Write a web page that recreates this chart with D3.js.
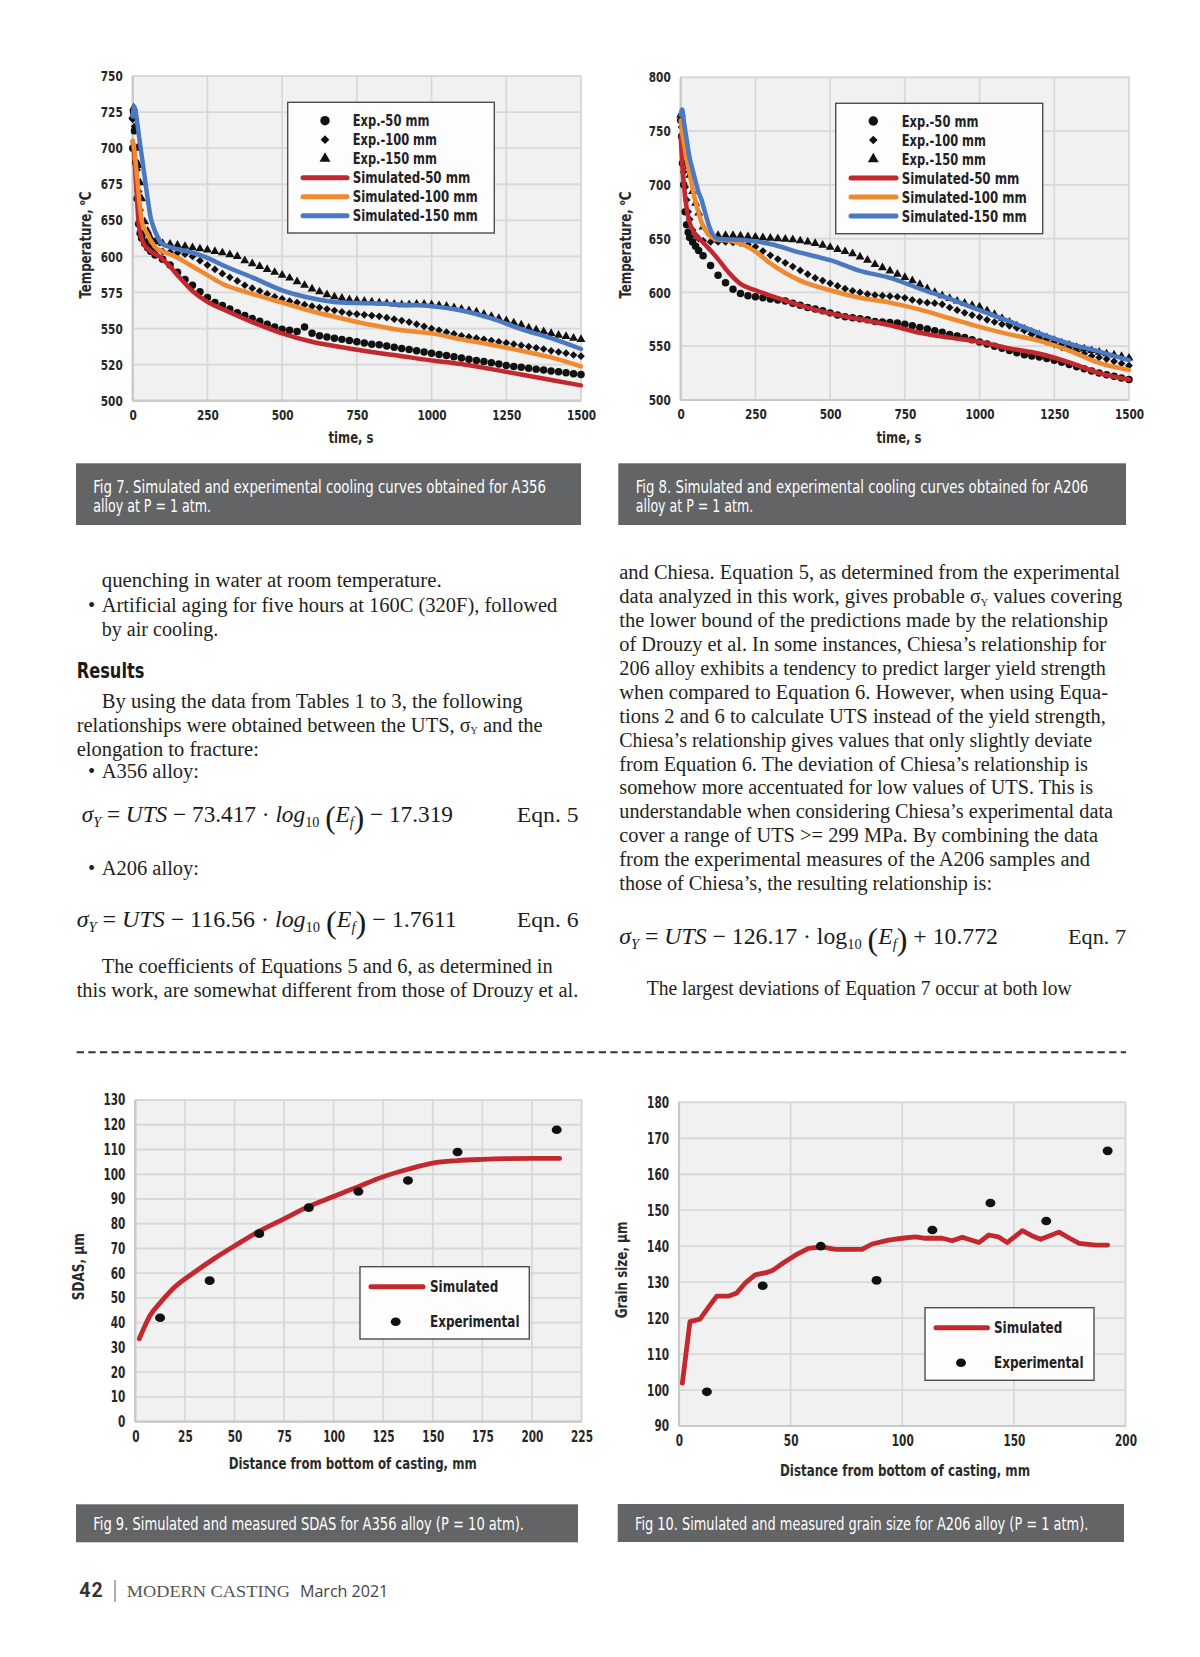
<!DOCTYPE html>
<html>
<head>
<meta charset="utf-8">
<script src="https://d3js.org/d3.v7.min.js"></script>
<style>
body{margin:0;background:#fff;}
svg{display:block;}
</style>
</head>
<body>
<svg id="page" width="1200" height="1657"></svg>
<script>
// ---- Fig 7 / Fig 8 : cooling curves ----
var coolTicksX = [0, 250, 500, 750, 1000, 1250, 1500];
var fig7TicksY = [500, 520, 550, 575, 600, 650, 675, 700, 725, 750];   // as printed (uneven)
var fig8TicksY = [500, 550, 600, 650, 700, 750, 800];
var coolLegendLabels = ["Exp.-50 mm", "Exp.-100 mm", "Exp.-150 mm", "Simulated-50 mm", "Simulated-100 mm", "Simulated-150 mm"];
var coolLegendWidths = [76.7, 84.3, 84.3, 117.7, 125, 125];

var simTime = [0,5,10,20,30,40,50,60,70,80,90,100,125,150,200,250,300,400,500,600,700,800,900,1000,1100,1200,1300,1400,1500];
var expTime = [0,3,6,10,15,20,25,30,40,50,60,75,
  100,125,150,175,200,225,250,275,300,325,350,375,400,425,450,475,500,525,550,575,600,625,650,675,700,725,
  750,775,800,825,850,875,900,925,950,975,1000,1025,1050,1075,1100,1125,1150,1175,1200,1225,1250,1275,
  1300,1325,1350,1375,1400,1425,1450,1475,1500];

// Fig 7 (A356) values in printed-label units
var f7Sim50  = [705,695,680,645,625,615,611,607,604.5,602,600,598,593,587,576,568.5,563.5,554.5,546,539,534.5,530.5,527,523.5,520.5,517.5,514.5,511.5,508.5];
var f7Sim100 = [705,700,690,668,650,638,630,622,616,611,609,607,603,599,593,587,581,574,568,562,557,552.5,548.5,546,541,536.5,531.5,526,519];
var f7Sim150 = [722,729,725,710,695,680,665,652,640,630,622,617,613,610,605,599,594,585.5,576.5,571,568,567.5,566.5,565.5,562.5,557,549.5,542,533];
var f7Exp50  = [700,725,712,690,665,645,632,625,618,612,607,602,
  598,594,589,584,580,575.5,571.5,568,566,563.5,561,559,557,555,553,551,549.5,548.5,547.5,551,546,544,543,542,541,540,
  539,538,537,536.5,535.5,534.5,533.5,532.5,531.5,530.5,529.5,528.5,527.5,526.5,525.5,524.5,523.5,522.5,521.5,520.5,519.5,519,
  518.5,518,517.5,517,516.5,516,515.5,515,514.5];
var f7Exp100 = [720,726,715,700,685,670,657,648,632,622,615,610,
  607,606,605,603,600,597,594,591,588,585.5,583,580,578,576,574,572,570.5,569,568,566.5,565.5,564.5,563.5,562.5,561.5,560.5,
  560,559.5,559,558.5,557.5,556.5,555.5,554.5,553,551.5,550,548.5,547,545.5,544,543,542,541,540,539,538,537,
  536,535,534,533,531.5,530.5,529.5,528,527];
var f7Exp150 = [722,728,722,712,700,688,676,665,648,635,626,620,
  618,617,615.5,614,612,610.5,609,607,605,602.5,600,597,595,593,591,589,587,585,582.5,580,577.5,575.5,573.5,572,571,570,
  569.5,569,568.5,568,567.5,567,566.5,566.5,567,567,566.5,566,565.5,564.5,563.5,562.5,561.5,560,558.5,557,555.5,554,
  552.5,550.5,549,547.5,546,544.5,543.5,542,541];

// Fig 8 (A206)
var f8Sim50  = [745,720,702,678,665,658,653,650,648,645,642,639,631,622,608,602,597,588,580.5,575,569.5,562.5,558,554,548,543,535,525,519];
var f8Sim100 = [760,748,740,723,710,696,684,674,665,659,655,652,649,648.5,645.5,638,627,611,602,595,590.5,584,576,568,561,555,546,534.5,528];
var f8Sim150 = [765,770,760,742,725,714,703,693,686,676,666,658,650,649.5,649,647.5,645,637,630,620,613.5,603.5,594,583.5,573,562,552.5,545,537];
var f8Exp50  = [760,745,720,700,675,663,656,651,647,643,639,634,
  625,616,609,603,599,597,596,595,594,593,592,590,588,586,584.5,583,581,579,577.5,576.5,575.5,574.5,573,572.5,572,571.5,
  570.5,569,567.5,566,564.5,563,561,559.5,558,556,554,552,550,548,546,544,542,541,540,538.5,537,535,
  533,531,529,527,525,523.5,522,520.5,519];
var f8Exp100 = [760,754,735,712,698,686,675,668,658,653,650,648,
  647,647,647,646.5,646,644.5,642.5,638.5,634.5,631,627.5,624,620.5,617,613.5,611,608.5,606,603.5,601.5,600,598.5,597.5,597,596.5,596,
  595,593,591.5,590.5,590,589,586,583.5,581,579,577,574.5,572.5,570.5,569,567,564.5,561,557.5,554,551.5,549,
  547,545,543,541,539.5,538,536,534,532];
var f8Exp150 = [765,766,755,748,737,727,717,709,694,683,674,661,
  655,653,653,653,652.5,652,651.5,651,650.5,650,649.5,649,648,647,645.5,644,642,640,638,636,633,630,626,623,620,617,
  614,611,607.5,603.5,600,597,594.5,592,590,588,586.5,583,579.5,576,572.5,569,566,563,560.5,558,555.5,553,
  551,549,547.5,546,544.5,543,542,540.5,539];

// ---- Fig 9 : SDAS ----
var sdasTicksX = [0,25,50,75,100,125,150,175,200,225];
var sdasTicksY = [0,10,20,30,40,50,60,70,80,90,100,110,120,130];
var sdasSimX = [2,5,7.5,12.5,20,30,40,50,62.5,75,87.5,100,112.5,125,137.5,150,162.5,175,187.5,200,214];
var sdasSimY = [33.5,39,43,48,54.5,60.5,66,71,77,82,87,91,95,99,102,104.5,105.5,106,106.3,106.4,106.4];
var sdasExpX = [12.5,37.5,62.5,87.5,112.5,137.5,162.5,212.5];
var sdasExpY = [42,57,76,86.5,93,97.5,109,118];

// ---- Fig 10 : grain size ----
var grainTicksX = [0,50,100,150,200];
var grainTicksY = [90,100,110,120,130,140,150,160,170,180];
var grainSimX = [1.5,4.9,9.4,13.9,16.9,22.1,25.9,29.6,34.1,39.4,42.3,46.8,52.1,58,64,70,82,86.5,93.9,100,105.9,110.4,117.9,122.4,126.9,134.3,138.8,143,147,153.8,158,162,170.2,175,179.2,186.7,192];
var grainSimY = [101.9,119,119.7,123.6,126.1,126.1,127,129.7,132,132.7,133.4,135.4,137.5,139.4,139.8,139.1,139.1,140.6,141.7,142.2,142.6,142.2,142.2,141.5,142.5,141,143.1,142.6,141,144.3,142.9,141.9,143.9,142.2,140.8,140.3,140.3];
var grainExpX = [12.5,37.5,63.5,88.5,113.5,139.5,164.5,192];
var grainExpY = [99.5,129,140,130.5,144.5,152,147,166.5];

var NARROW = "'Liberation Sans Narrow','Arial Narrow','DejaVu Sans Condensed',Roboto,sans-serif";
var SERIF = "'Liberation Serif','DejaVu Serif',serif";
var INK = "#231f20";
var RED = "#c3282e", ORANGE = "#ef8a30", BLUE = "#4a79c1";

var svg = d3.select("#page");

function squeeze(sel, w) {
  return sel.attr("textLength", w).attr("lengthAdjust", "spacingAndGlyphs");
}

function frame(g, x, y, xTicks, yTicks, fs) {
  var xr = x.range(), yr = y.range();
  var x0 = xr[0], x1 = xr[xr.length - 1], yb = yr[0], yt = yr[yr.length - 1];
  g.append("rect").attr("x", x0).attr("y", yt).attr("width", x1 - x0).attr("height", yb - yt)
    .attr("fill", "#f1f1f1").attr("stroke", "#dcdcdc").attr("stroke-width", 1.5);
  g.append("g").selectAll("line").data(xTicks).join("line")
    .attr("x1", d => x(d)).attr("x2", d => x(d)).attr("y1", yt).attr("y2", yb)
    .attr("stroke", "#d8d8d8").attr("stroke-width", 1.8);
  g.append("g").selectAll("line").data(yTicks).join("line")
    .attr("x1", x0).attr("x2", x1).attr("y1", d => y(d)).attr("y2", d => y(d))
    .attr("stroke", "#d8d8d8").attr("stroke-width", 1.8);
  g.append("line").attr("x1", x0).attr("x2", x0).attr("y1", yt).attr("y2", yb).attr("stroke", "#c9c9c9").attr("stroke-width", 2.2);
  g.append("line").attr("x1", x0).attr("x2", x1).attr("y1", yb).attr("y2", yb).attr("stroke", "#c9c9c9").attr("stroke-width", 2.2);

  var ax = g.append("g").attr("transform", "translate(0," + yb + ")")
    .call(d3.axisBottom(x).tickValues(xTicks).tickSize(0).tickPadding(9).tickFormat(d3.format("d")));
  var ay = g.append("g").attr("transform", "translate(" + x0 + ",0)")
    .call(d3.axisLeft(y).tickValues(yTicks).tickSize(0).tickPadding(10).tickFormat(d3.format("d")));
  [ax, ay].forEach(function(a) {
    a.select(".domain").remove();
    a.selectAll("text").attr("font-family", NARROW).attr("font-weight", "bold")
      .attr("font-size", fs).attr("fill", "#262626")
      .attr("textLength", d => String(d).length * 7.3).attr("lengthAdjust", "spacingAndGlyphs");
  });
}

function axisTitle(g, x, y, txt, w, rotate) {
  var t = g.append("text").attr("font-family", NARROW).attr("font-weight", "bold").attr("font-size", 16)
    .attr("fill", "#2a2a2a").attr("text-anchor", "middle");
  if (rotate) t.attr("transform", "translate(" + x + "," + y + ") rotate(-90)");
  else t.attr("x", x).attr("y", y);
  return squeeze(t.text(txt), w);
}

function tempTitle(g, x, y) {
  var t = g.append("text").attr("font-family", NARROW).attr("font-weight", "bold").attr("font-size", 15.5)
    .attr("fill", "#2a2a2a").attr("text-anchor", "middle")
    .attr("transform", "translate(" + x + "," + y + ") rotate(-90)");
  t.append("tspan").text("Temperature, ");
  t.append("tspan").attr("font-size", 9.5).attr("dy", -6).text("o");
  t.append("tspan").attr("dy", 6).text("C");
  squeeze(t, 107);
}

var symCircle = d3.symbol().type(d3.symbolCircle).size(44);
var symDiamond = d3.symbol().type(d3.symbolDiamond2).size(38);
var symTriangle = d3.symbol().type(d3.symbolTriangle).size(34);

function coolingChart(g, x, y, sims, exps) {
  var syms = [symCircle, symDiamond, symTriangle];
  exps.forEach(function(vals, k) {
    g.append("g").selectAll("path").data(expTime).join("path")
      .attr("transform", (d, i) => "translate(" + x(d) + "," + y(vals[i]) + ")")
      .attr("d", syms[k]()).attr("fill", "#111");
  });
  var colors = [RED, ORANGE, BLUE];
  sims.forEach(function(vals, k) {
    var line = d3.line().x((d, i) => x(simTime[i])).y(d => y(d)).curve(d3.curveMonotoneX);
    g.append("path").datum(vals).attr("d", line).attr("fill", "none")
      .attr("stroke", colors[k]).attr("stroke-width", 4.5).attr("stroke-linejoin", "round").attr("stroke-linecap", "round");
  });
}

function coolLegend(g, bx, by, bw, bh, markX, lx1, lx2, textX, firstY) {
  g.append("rect").attr("x", bx).attr("y", by).attr("width", bw).attr("height", bh)
    .attr("fill", "#fdfdfd").attr("stroke", "#4d4d4d").attr("stroke-width", 1.4);
  var syms = [d3.symbol().type(d3.symbolCircle).size(70), d3.symbol().type(d3.symbolDiamond2).size(48), d3.symbol().type(d3.symbolTriangle).size(52)];
  var colors = [RED, ORANGE, BLUE];
  coolLegendLabels.forEach(function(lab, i) {
    var cy = firstY + i * 19;
    if (i < 3) {
      g.append("path").attr("transform", "translate(" + markX + "," + cy + ")").attr("d", syms[i]()).attr("fill", "#111");
    } else {
      g.append("line").attr("x1", lx1).attr("x2", lx2).attr("y1", cy).attr("y2", cy)
        .attr("stroke", colors[i - 3]).attr("stroke-width", 5).attr("stroke-linecap", "round");
    }
    squeeze(g.append("text").attr("x", textX).attr("y", cy + 5.5).attr("font-family", NARROW).attr("font-weight", "bold")
      .attr("font-size", 15.5).attr("fill", "#222").text(lab), coolLegendWidths[i]);
  });
}

function simpleLegend(g, bx, by, bw, bh, lx1, lx2, ly, dotX, dotY, textX) {
  g.append("rect").attr("x", bx).attr("y", by).attr("width", bw).attr("height", bh)
    .attr("fill", "#fdfdfd").attr("stroke", "#4d4d4d").attr("stroke-width", 1.4);
  g.append("line").attr("x1", lx1).attr("x2", lx2).attr("y1", ly).attr("y2", ly)
    .attr("stroke", RED).attr("stroke-width", 5).attr("stroke-linecap", "round");
  g.append("ellipse").attr("cx", dotX).attr("cy", dotY).attr("rx", 5).attr("ry", 4.3).attr("fill", "#111");
  [["Simulated", ly, 68.3], ["Experimental", dotY, 89.5]].forEach(function(p) {
    squeeze(g.append("text").attr("x", textX).attr("y", p[1] + 5.5).attr("font-family", NARROW).attr("font-weight", "bold")
      .attr("font-size", 16).attr("fill", "#222").text(p[0]), p[2]);
  });
}

function caption(g, x, y, w, h, tx, lines) {
  g.append("rect").attr("x", x).attr("y", y).attr("width", w).attr("height", h).attr("fill", "#636466");
  lines.forEach(function(l) {
    squeeze(g.append("text").attr("x", tx).attr("y", l[1]).attr("font-family", NARROW).attr("font-size", 17.5)
      .attr("fill", "#ffffff").text(l[0]), l[2]);
  });
}

// ---------- Fig 7 ----------
var g7 = svg.append("g");
var x7 = d3.scaleLinear().domain([0, 1500]).range([132.7, 581]);
var y7 = d3.scaleLinear().domain(fig7TicksY).range(fig7TicksY.map((d, i) => 400.7 - i * (400.7 - 76) / (fig7TicksY.length - 1)));
frame(g7, x7, y7, coolTicksX, fig7TicksY, 14.5);
coolingChart(g7, x7, y7, [f7Sim50, f7Sim100, f7Sim150], [f7Exp50, f7Exp100, f7Exp150]);
coolLegend(g7, 287.7, 102.3, 206.6, 130.7, 325, 303, 347, 352.7, 120.7);
axisTitle(g7, 351, 442.5, "time, s", 45);
tempTitle(g7, 90.5, 245);
caption(g7, 76, 463.3, 505, 61.7, 93.3, [["Fig 7. Simulated and experimental cooling curves obtained for A356", 492.7, 452.7], ["alloy at P = 1 atm.", 511.5, 117.7]]);

// ---------- Fig 8 ----------
var g8 = svg.append("g");
var x8 = d3.scaleLinear().domain([0, 1500]).range([680.7, 1129]);
var y8 = d3.scaleLinear().domain([500, 800]).range([400, 77.3]);
frame(g8, x8, y8, coolTicksX, fig8TicksY, 14.5);
coolingChart(g8, x8, y8, [f8Sim50, f8Sim100, f8Sim150], [f8Exp50, f8Exp100, f8Exp150]);
coolLegend(g8, 835.7, 103.3, 207, 130.4, 873.3, 851, 896, 901.7, 121);
axisTitle(g8, 899, 442.5, "time, s", 45);
tempTitle(g8, 630.5, 245);
caption(g8, 618.3, 463.3, 507.7, 61.7, 635.7, [["Fig 8. Simulated and experimental cooling curves obtained for A206", 492.7, 452.6], ["alloy at P = 1 atm.", 511.5, 117.6]]);

// ---------- Fig 9 ----------
var g9 = svg.append("g");
var x9 = d3.scaleLinear().domain([0, 225]).range([135.3, 581.5]);
var y9 = d3.scaleLinear().domain([0, 130]).range([1421.7, 1100]);
frame(g9, x9, y9, sdasTicksX, sdasTicksY, 15.5);
g9.append("path").datum(sdasSimY)
  .attr("d", d3.line().x((d, i) => x9(sdasSimX[i])).y(d => y9(d)).curve(d3.curveMonotoneX))
  .attr("fill", "none").attr("stroke", RED).attr("stroke-width", 4.8).attr("stroke-linecap", "round");
g9.append("g").selectAll("ellipse").data(sdasExpY).join("ellipse")
  .attr("cx", (d, i) => x9(sdasExpX[i])).attr("cy", d => y9(d)).attr("rx", 5).attr("ry", 4.3).attr("fill", "#111");
simpleLegend(g9, 360, 1266.7, 169.3, 72.3, 371, 423, 1286.7, 395.7, 1321.7, 430);
axisTitle(g9, 352.7, 1469.3, "Distance from bottom of casting, mm", 248);
axisTitle(g9, 84, 1266.7, "SDAS, µm", 67, true);
caption(g9, 76, 1504.3, 502, 38, 93.3, [["Fig 9. Simulated and measured SDAS for A356 alloy (P = 10 atm).", 1530, 430.7]]);

// ---------- Fig 10 ----------
var g10 = svg.append("g");
var x10 = d3.scaleLinear().domain([0, 200]).range([679, 1125.5]);
var y10 = d3.scaleLinear().domain([90, 180]).range([1426, 1102.3]);
frame(g10, x10, y10, grainTicksX, grainTicksY, 15.5);
g10.append("path").datum(grainSimY)
  .attr("d", d3.line().x((d, i) => x10(grainSimX[i])).y(d => y10(d)))
  .attr("fill", "none").attr("stroke", RED).attr("stroke-width", 4.8).attr("stroke-linejoin", "round").attr("stroke-linecap", "round");
g10.append("g").selectAll("ellipse").data(grainExpY).join("ellipse")
  .attr("cx", (d, i) => x10(grainExpX[i])).attr("cy", d => y10(d)).attr("rx", 5).attr("ry", 4.3).attr("fill", "#111");
simpleLegend(g10, 925, 1307.7, 169, 72.6, 936, 987.5, 1327.7, 961, 1362.7, 994);
axisTitle(g10, 905, 1476, "Distance from bottom of casting, mm", 250);
axisTitle(g10, 626.5, 1270, "Grain size, µm", 96.7, true);
caption(g10, 617.7, 1504, 506.3, 38, 635, [["Fig 10. Simulated and measured grain size for A206 alloy (P = 1 atm).", 1530, 453.3]]);

// ---------- body text ----------
var gt = svg.append("g");
function bodyLine(x, y, str, w) {
  var t = gt.append("text").attr("x", x).attr("y", y).attr("font-family", SERIF).attr("font-size", 20.5).attr("fill", INK);
  var parts = str.split("σY");
  parts.forEach(function(p, i) {
    if (i > 0) {
      t.append("tspan").attr("font-size", 20).text("σ");
      t.append("tspan").attr("font-size", 10).attr("dy", 2.5).text("Y");
      t.append("tspan").attr("dy", -2.5).text(p);
    } else t.append("tspan").text(p);
  });
  // lines carrying the σY subscript keep their natural width
  if (w && parts.length === 1) squeeze(t, w);
  return t;
}
function bullet(x, y) {
  gt.append("text").attr("x", x).attr("y", y).attr("text-anchor", "middle").attr("font-family", SERIF)
    .attr("font-size", 20.5).attr("fill", INK).text("•");
}

var leftLines = [
  [101.7, 587, "quenching in water at room temperature.", 340],
  [101.7, 611.7, "Artificial aging for five hours at 160C (320F), followed", 455.6],
  [101.7, 636, "by air cooling.", 116.6],
  [101.7, 708.3, "By using the data from Tables 1 to 3, the following", 421],
  [76.7, 731.7, "relationships were obtained between the UTS, σY and the", 476.6],
  [76.7, 755.7, "elongation to fracture:", null],
  [101.7, 778.3, "A356 alloy:", null],
  [101.7, 875, "A206 alloy:", null],
  [101.7, 973.3, "The coefficients of Equations 5 and 6, as determined in", 451],
  [76.7, 997.3, "this work, are somewhat different from those of Drouzy et al.", 501.6]
];
leftLines.forEach(l => bodyLine(l[0], l[1], l[2], l[3]));
bullet(91.7, 611.7);
bullet(91.7, 778.3);
bullet(91.7, 875);

var rightLines = [
  ["and Chiesa. Equation 5, as determined from the experimental", 1120],
  ["data analyzed in this work, gives probable σY values covering", 1112],
  ["the lower bound of the predictions made by the relationship", 1108],
  ["of Drouzy et al. In some instances, Chiesa’s relationship for", 1106],
  ["206 alloy exhibits a tendency to predict larger yield strength", 1106],
  ["when compared to Equation 6. However, when using Equa-", 1108],
  ["tions 2 and 6 to calculate UTS instead of the yield strength,", 1106],
  ["Chiesa’s relationship gives values that only slightly deviate", 1092],
  ["from Equation 6. The deviation of Chiesa’s relationship is", 1088],
  ["somehow more accentuated for low values of UTS. This is", 1093],
  ["understandable when considering Chiesa’s experimental data", 1113],
  ["cover a range of UTS >= 299 MPa. By combining the data", 1098],
  ["from the experimental measures of the A206 samples and", 1090],
  ["those of Chiesa’s, the resulting relationship is:", 992]
];
rightLines.forEach((l, i) => bodyLine(619.3, 579.3 + i * 23.9, l[0], l[1] - 619.3));
bodyLine(646.7, 995, "The largest deviations of Equation 7 occur at both low", 425);

// Results heading
squeeze(gt.append("text").attr("x", 76.7).attr("y", 678.3).attr("font-family", NARROW).attr("font-weight", "bold")
  .attr("font-size", 21.5).attr("fill", "#1a1a1a").text("Results"), 67.7);

// equations
function equation(x, y, parts, w) {
  var t = gt.append("text").attr("x", x).attr("y", y).attr("font-family", SERIF).attr("font-size", 23).attr("fill", "#1a1a1a");
  var off = 0;
  parts.forEach(function(p) {
    var s = t.append("tspan").text(p[0]);
    var st = p[1];
    var target = 0, size = null;
    if (st.indexOf("i") >= 0) s.attr("font-style", "italic");
    if (st.indexOf("s") >= 0) { target = 5; size = 14; }
    if (st.indexOf("p") >= 0) { target = 6; size = 31; }
    if (size) s.attr("font-size", size);
    if (target !== off) { s.attr("dy", target - off); off = target; }
  });
  squeeze(t, w);
}
equation(81.7, 822.3, [["σ", "i"], ["Y", "si"], [" = ", "n"], ["UTS", "i"], [" − 73.417 · ", "n"], ["log", "i"], ["10", "s"], [" ", "n"], ["(", "p"], ["E", "i"], ["f", "si"], [")", "p"], [" − 17.319", "n"]], 371.3);
equation(76.7, 926.7, [["σ", "i"], ["Y", "si"], [" = ", "n"], ["UTS", "i"], [" − 116.56 · ", "n"], ["log", "i"], ["10", "s"], [" ", "n"], ["(", "p"], ["E", "i"], ["f", "si"], [")", "p"], [" − 1.7611", "n"]], 380);
equation(619.3, 943.5, [["σ", "i"], ["Y", "si"], [" = ", "n"], ["UTS", "i"], [" − 126.17 · ", "n"], ["log", "n"], ["10", "s"], [" ", "n"], ["(", "p"], ["E", "i"], ["f", "si"], [")", "p"], [" + 10.772", "n"]], 378.7);
bodyLine(516.7, 822.3, "Eqn. 5", 62);
bodyLine(516.7, 926.7, "Eqn. 6", 62);
bodyLine(1068, 943.5, "Eqn. 7", 58);

// dashed separator
svg.append("line").attr("x1", 76.7).attr("x2", 1126).attr("y1", 1052.3).attr("y2", 1052.3)
  .attr("stroke", "#333").attr("stroke-width", 2).attr("stroke-dasharray", "7.3,4.3");

// footer
var gf = svg.append("g");
gf.append("text").attr("x", 79.3).attr("y", 1597).attr("font-family", "Roboto,'Liberation Sans',sans-serif")
  .attr("font-weight", "bold").attr("font-size", 19.5).attr("fill", "#333").attr("textLength", 23.3).text("42");
gf.append("line").attr("x1", 115).attr("x2", 115).attr("y1", 1580).attr("y2", 1602).attr("stroke", "#777").attr("stroke-width", 1.2);
squeeze(gf.append("text").attr("x", 126.7).attr("y", 1597).attr("font-family", SERIF).attr("font-size", 16.5).attr("fill", "#555")
  .text("MODERN CASTING"), 163.3);
squeeze(gf.append("text").attr("x", 300).attr("y", 1597).attr("font-family", "'Open Sans','Liberation Sans',sans-serif").attr("font-size", 16.5)
  .attr("fill", "#444").text("March 2021"), 88.3);
</script>
</body>
</html>
